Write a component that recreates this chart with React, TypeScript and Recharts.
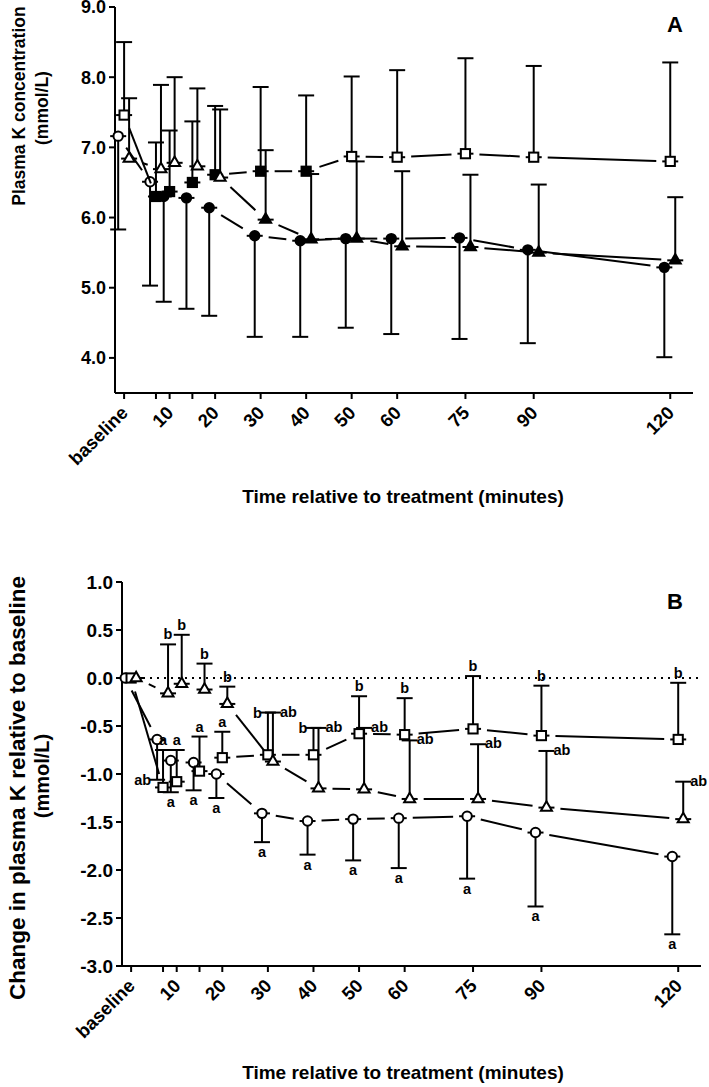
import { ComposedChart, Scatter, XAxis, YAxis, ErrorBar, ReferenceLine, Customized } from 'recharts';

// sampling times (minutes); 0 is the baseline sample
const TIMES = [0, 7, 10, 15, 20, 30, 40, 50, 60, 75, 90, 120];
const TICK_TEXT = ['baseline', '', '10', '', '20', '30', '40', '50', '60', '75', '90', '120'];

// groups are drawn slightly apart on the time axis
const NUDGE: Record<string, number> = { circle: -1.3, square: 0, triangle: 1.1 };

// panel A - plasma K (mmol/L)
const circleA = [7.16, 6.51, 6.3, 6.28, 6.14, 5.74, 5.67, 5.7, 5.7, 5.71, 5.54, 5.29];
const circleAErr = [1.33, 1.48, 1.5, 1.58, 1.54, 1.44, 1.37, 1.27, 1.36, 1.44, 1.33, 1.28];
const circleAFilled = [0, 0, 1, 1, 1, 1, 1, 1, 1, 1, 1, 1];
const squareA = [7.46, 6.3, 6.37, 6.5, 6.61, 6.66, 6.66, 6.87, 6.86, 6.91, 6.86, 6.8];
const squareAErr = [1.04, 0.77, 0.87, 0.87, 0.98, 1.2, 1.08, 1.14, 1.24, 1.36, 1.3, 1.41];
const squareAFilled = [0, 1, 1, 1, 1, 1, 1, 0, 0, 0, 0, 0];
const triangleA = [6.84, 6.69, 6.78, 6.73, 6.57, 5.97, 5.69, 5.7, 5.59, 5.58, 5.5, 5.39];
const triangleAErr = [0.86, 1.2, 1.22, 1.11, 0.97, 0.99, 0.93, 1.1, 1.07, 1.03, 0.97, 0.9];
const triangleAFilled = [0, 0, 0, 0, 0, 1, 1, 1, 1, 1, 1, 1];

// panel B - change from baseline (mmol/L)
const circleB = [0, -0.64, -0.86, -0.88, -1.0, -1.41, -1.49, -1.47, -1.46, -1.44, -1.61, -1.86];
const circleBErr = [0, 0.42, 0.33, 0.29, 0.25, 0.3, 0.35, 0.43, 0.52, 0.65, 0.77, 0.81];
const circleBLetters = ['', 'ab', 'a', 'a', 'a', 'a', 'a', 'a', 'a', 'a', 'a', 'a'];
const squareB = [0, -1.14, -1.08, -0.97, -0.83, -0.8, -0.8, -0.58, -0.59, -0.53, -0.6, -0.64];
const squareBErr = [0, 0.39, 0.33, 0.36, 0.27, 0.44, 0.28, 0.39, 0.38, 0.55, 0.52, 0.59];
const squareBLetters = ['', 'a', 'a', 'a', 'a', 'b', 'b', 'b', 'b', 'b', 'b', 'b'];
const triangleB = [0, -0.16, -0.06, -0.12, -0.27, -0.87, -1.15, -1.16, -1.26, -1.26, -1.35, -1.47];
const triangleBErr = [0, 0.51, 0.51, 0.27, 0.18, 0.51, 0.63, 0.64, 0.61, 0.57, 0.59, 0.39];
const triangleBLetters = ['', 'b', 'b', 'b', 'b', 'ab', 'ab', 'ab', 'ab', 'ab', 'ab', 'ab'];

const FONT = '"Liberation Sans", Arial, Helvetica, sans-serif';

type Shape = 'circle' | 'square' | 'triangle';

function build(shape: Shape, values: number[], errs: number[], dir: 'up' | 'down', filled?: number[]) {
  return values.map((v, i) => ({
    t: TIMES[i] + NUDGE[shape],
    v,
    eb: dir === 'up' ? [0, errs[i]] : [errs[i], 0],
    filled: filled ? filled[i] === 1 : false,
  }));
}

function letters(shape: Shape, values: number[], errs: number[], dir: 'up' | 'down', text: string[], sideOf: (i: number) => string) {
  return values
    .map((v, i) => ({
      t: TIMES[i] + NUDGE[shape],
      y: dir === 'up' ? v + errs[i] : v - errs[i],
      text: text[i],
      side: sideOf(i),
    }))
    .filter((d) => d.text);
}

const groupsA = [
  { shape: 'circle' as Shape, data: build('circle', circleA, circleAErr, 'down', circleAFilled) },
  { shape: 'square' as Shape, data: build('square', squareA, squareAErr, 'up', squareAFilled) },
  { shape: 'triangle' as Shape, data: build('triangle', triangleA, triangleAErr, 'up', triangleAFilled) },
];

const groupsB = [
  { shape: 'circle' as Shape, data: build('circle', circleB, circleBErr, 'down') },
  { shape: 'square' as Shape, data: build('square', squareB, squareBErr, 'up') },
  { shape: 'triangle' as Shape, data: build('triangle', triangleB, triangleBErr, 'up') },
];

const lettersB = [
  ...letters('circle', circleB, circleBErr, 'down', circleBLetters, (i) => (i === 1 ? 'left' : 'below')),
  ...letters('square', squareB, squareBErr, 'up', squareBLetters, (i) => (i === 5 || i === 6 ? 'left' : 'above')),
  ...letters('triangle', triangleB, triangleBErr, 'up', triangleBLetters, (i) => (i <= 4 ? 'above' : 'right')),
];

// connecting line that stops short of each symbol (Prism style)
const GAP = 14;
function trimmedLine(props: any) {
  const pts = props.points || [];
  const segs: any[] = [];
  for (let i = 1; i < pts.length; i++) {
    const a = pts[i - 1];
    const b = pts[i];
    const dx = b.x - a.x;
    const dy = b.y - a.y;
    const len = Math.hypot(dx, dy);
    if (len <= 2 * GAP + 2) continue;
    const ux = dx / len;
    const uy = dy / len;
    segs.push(
      <line
        key={i}
        x1={a.x + ux * GAP}
        y1={a.y + uy * GAP}
        x2={b.x - ux * GAP}
        y2={b.y - uy * GAP}
        stroke="#000"
        strokeWidth={2}
      />
    );
  }
  return <g>{segs}</g>;
}

function symbol(shape: Shape) {
  return (p: any) => {
    const { cx, cy, payload } = p;
    if (cx == null || cy == null) return <g />;
    const fill = payload && payload.filled ? '#000' : '#fff';
    const common = { fill, stroke: '#000', strokeWidth: 2 };
    if (shape === 'circle') return <circle cx={cx} cy={cy} r={4.7} {...common} />;
    if (shape === 'square') return <rect x={cx - 4.6} y={cy - 4.6} width={9.2} height={9.2} {...common} />;
    const s = 11;
    const h = 9.5;
    const pts = `${cx},${cy - (2 * h) / 3} ${cx - s / 2},${cy + h / 3} ${cx + s / 2},${cy + h / 3}`;
    return <polygon points={pts} strokeLinejoin="miter" {...common} />;
  };
}

function Letter(p: any) {
  const { cx, cy, payload } = p;
  let x = cx;
  let y = cy;
  let anchor: 'middle' | 'end' | 'start' = 'middle';
  if (payload.side === 'above') y = cy - 5;
  if (payload.side === 'below') y = cy + 15;
  if (payload.side === 'left') {
    x = cx - 6;
    y = cy + 5;
    anchor = 'end';
  }
  if (payload.side === 'right') {
    x = cx + 7;
    y = cy + 4;
    anchor = 'start';
  }
  return (
    <text x={x} y={y} textAnchor={anchor} fontSize={14.5} fontWeight={700} fill="#000" fontFamily={FONT}>
      {payload.text}
    </text>
  );
}

function XTick(props: any) {
  const { x, y, payload } = props;
  const text = TICK_TEXT[TIMES.indexOf(payload.value)];
  if (!text) return <g />;
  const ax = x + 5;
  const ay = y + 13;
  return (
    <text x={ax} y={ay} transform={`rotate(-45 ${ax} ${ay})`} textAnchor="end" fontSize={18.5} fontWeight={700} fill="#000" fontFamily={FONT}>
      {text}
    </text>
  );
}

const axisStroke = { stroke: '#000', strokeWidth: 2 };

function TextA() {
  return (
    <g fontFamily={FONT} fontWeight={700} fill="#000">
      <text x={675} y={32} textAnchor="middle" fontSize={22}>A</text>
      <text x={25} y={106} transform="rotate(-90 25 106)" textAnchor="middle" fontSize={17.5}>Plasma K concentration</text>
      <text x={48} y={108} transform="rotate(-90 48 108)" textAnchor="middle" fontSize={17.5}>(mmol/L)</text>
      <text x={403} y={503} textAnchor="middle" fontSize={19}>Time relative to treatment (minutes)</text>
    </g>
  );
}

function TextB() {
  return (
    <g fontFamily={FONT} fontWeight={700} fill="#000">
      <text x={675} y={84} textAnchor="middle" fontSize={22}>B</text>
      <text x={25} y={263} transform="rotate(-90 25 263)" textAnchor="middle" fontSize={22.5}>Change in plasma K relative to baseline</text>
      <text x={49} y={251} transform="rotate(-90 49 251)" textAnchor="middle" fontSize={20}>(mmol/L)</text>
      <text x={403} y={554} textAnchor="middle" fontSize={19}>Time relative to treatment (minutes)</text>
    </g>
  );
}

function Panel({ groups, yDomain, yTicks, height, margin, xHeight, yWidth, yFont, zeroLine, labels, Texts }: any) {
  return (
    <ComposedChart width={709} height={height} margin={margin}>
      {zeroLine && <ReferenceLine y={0} stroke="#000" strokeWidth={2} strokeDasharray="2 5" />}
      <XAxis
        type="number"
        dataKey="t"
        domain={[-2, 125]}
        ticks={TIMES}
        interval={0}
        height={xHeight}
        tick={XTick}
        tickSize={6}
        axisLine={axisStroke}
        tickLine={axisStroke}
      />
      <YAxis
        type="number"
        domain={yDomain}
        ticks={yTicks}
        interval={0}
        width={yWidth}
        tickFormatter={(v: number) => v.toFixed(1)}
        tick={{ fill: '#000', fontSize: yFont, fontWeight: 700, fontFamily: FONT }}
        tickSize={6}
        tickMargin={3}
        axisLine={axisStroke}
        tickLine={axisStroke}
      />
      {groups.map((g: any) => (
        <Scatter
          key={'mark-' + g.shape}
          data={g.data}
          dataKey="v"
          line={trimmedLine}
          shape={symbol(g.shape)}
          isAnimationActive={false}
        >
          <ErrorBar dataKey="eb" direction="y" width={8} strokeWidth={2} stroke="#000" />
        </Scatter>
      ))}
      {labels && <Scatter data={labels} dataKey="y" shape={Letter} isAnimationActive={false} />}
      <Customized component={Texts} />
    </ComposedChart>
  );
}

export default function App() {
  return (
    <div style={{ position: 'absolute', left: 0, top: 0, width: 709, background: '#fff', fontFamily: FONT }}>
      <Panel
        groups={groupsA}
        yDomain={[3.5, 9]}
        yTicks={[4, 5, 6, 7, 8, 9]}
        height={525}
        margin={{ top: 7, right: 16, bottom: 0, left: 0 }}
        xHeight={132}
        yWidth={115}
        yFont={18}
        Texts={TextA}
      />
      <Panel
        groups={groupsB}
        yDomain={[-3, 1]}
        yTicks={[-3, -2.5, -2, -1.5, -1, -0.5, 0, 0.5, 1]}
        height={562}
        margin={{ top: 57, right: 8, bottom: 0, left: 0 }}
        xHeight={121}
        yWidth={122}
        yFont={19}
        zeroLine
        labels={lettersB}
        Texts={TextB}
      />
    </div>
  );
}
